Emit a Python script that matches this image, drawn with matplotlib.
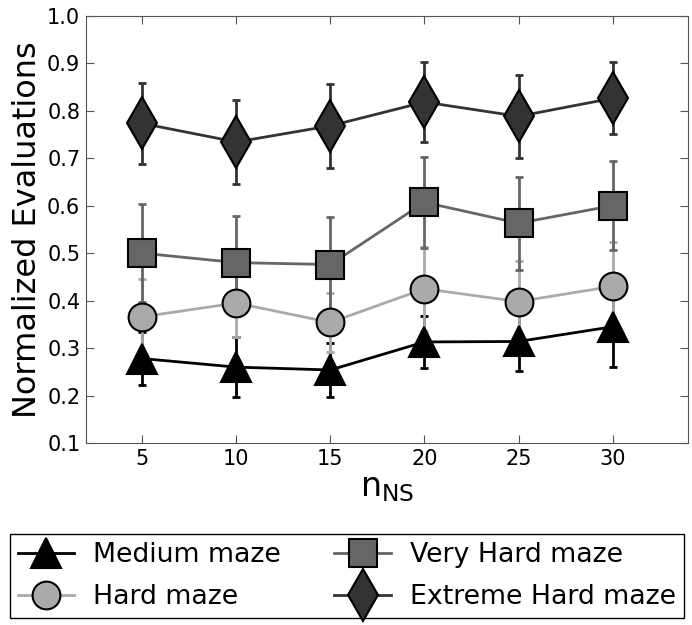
import matplotlib.pyplot as plt

n_ns = [5, 10, 15, 20, 25, 30]

medium = [0.278, 0.260, 0.254, 0.313, 0.314, 0.345]
medium_err = [0.056, 0.063, 0.057, 0.055, 0.062, 0.084]

hard = [0.366, 0.395, 0.354, 0.425, 0.398, 0.430]
hard_err = [0.080, 0.071, 0.063, 0.088, 0.085, 0.093]

very_hard = [0.500, 0.480, 0.476, 0.607, 0.563, 0.600]
very_hard_err = [0.103, 0.098, 0.100, 0.096, 0.098, 0.093]

extreme = [0.773, 0.734, 0.768, 0.818, 0.788, 0.826]
extreme_err = [0.085, 0.088, 0.089, 0.085, 0.088, 0.076]

series = [
    ('Medium maze', medium, medium_err, '^', '#000000', 22),
    ('Hard maze', hard, hard_err, 'o', '#aaaaaa', 20),
    ('Very Hard maze', very_hard, very_hard_err, 's', '#666666', 20),
    ('Extreme Hard maze', extreme, extreme_err, 'd', '#333333', 26),
]

fig = plt.figure(figsize=(6.92, 6.25), dpi=100)
ax = fig.add_axes([0.124, 0.291, 0.870, 0.684])

for label, vals, errs, marker, color, ms in series:
    ax.errorbar(n_ns, vals, yerr=errs, fmt='none', ecolor=color,
                elinewidth=2, capsize=3, capthick=2)
for label, vals, errs, marker, color, ms in series:
    ax.plot(n_ns, vals, color=color, linewidth=2, marker=marker,
            markersize=ms, markerfacecolor=color, markeredgecolor='black',
            markeredgewidth=1.5, label=label)

ax.set_xlim(2, 34)
ax.set_ylim(0.1, 1.0)
ax.set_xticks(n_ns)
ax.set_yticks([0.1, 0.2, 0.3, 0.4, 0.5, 0.6, 0.7, 0.8, 0.9, 1.0])
ax.tick_params(direction='in', top=True, right=True, labelsize=15,
               length=6, color='#555555', pad=4)
for sp in ax.spines.values():
    sp.set_color('#555555')
ax.set_ylabel('Normalized Evaluations', fontsize=23, labelpad=3)
ax.set_xlabel('n$_{\\mathregular{NS}}$', fontsize=24, labelpad=2)

leg = fig.legend(loc='upper left', bbox_to_anchor=(0.0145, 0.1456), ncol=2,
                 fontsize=19.3, fancybox=False, edgecolor='black',
                 framealpha=1, borderaxespad=0, handlelength=2.1,
                 handletextpad=0.7, columnspacing=2.0, labelspacing=0.6,
                 borderpad=0.3)
leg.get_frame().set_linewidth(1)

plt.savefig('out.png', dpi=100)
